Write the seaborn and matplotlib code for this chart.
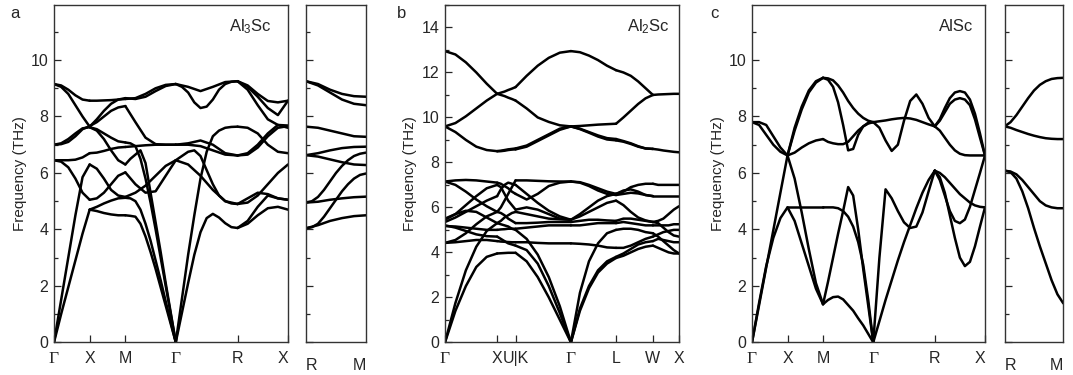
import numpy as np
import pandas as pd
import seaborn as sns
import matplotlib.pyplot as plt
from matplotlib.ticker import MultipleLocator

# ---------------- Al3Sc (L1_2) ----------------
al3sc_kpts = [0.0, 0.5, 1.0, 1.7071, 2.5731, 3.2802]
al3sc_labels = ['Γ', 'X', 'M', 'Γ', 'R', 'X']

al3sc_gx = [
    [0, 1.0, 1.95, 2.9, 3.85, 4.7],
    [0, 1.5, 3.0, 4.5, 5.85, 6.3],
    [6.45, 6.4, 6.2, 5.8, 5.3, 5.05],
    [6.45, 6.45, 6.45, 6.47, 6.55, 6.7],
    [7.0, 7.05, 7.2, 7.4, 7.58, 7.62],
    [7.0, 7.02, 7.1, 7.3, 7.55, 7.66],
    [9.15, 9.05, 8.8, 8.4, 8.0, 7.64],
    [9.15, 9.1, 8.95, 8.75, 8.6, 8.56],
]
al3sc_xm = [
    [4.7, 4.65, 4.58, 4.53, 4.5, 4.5],
    [4.7, 4.8, 4.92, 5.02, 5.1, 5.12],
    [5.05, 5.1, 5.3, 5.6, 5.9, 6.02],
    [6.3, 6.15, 5.8, 5.4, 5.2, 5.15],
    [6.7, 6.72, 6.78, 6.85, 6.9, 6.92],
    [7.62, 7.5, 7.2, 6.8, 6.45, 6.3],
    [7.62, 7.55, 7.4, 7.25, 7.12, 7.08],
    [7.66, 7.8, 8.0, 8.2, 8.32, 8.37],
    [7.64, 7.9, 8.2, 8.45, 8.6, 8.65],
    [8.56, 8.56, 8.57, 8.58, 8.6, 8.62],
]
al3sc_mg = [
    [4.5, 4.48, 4.45, 4.2, 3.75, 3.2, 2.6, 1.95, 1.3, 0.65, 0],
    [5.12, 5.1, 5.0, 4.7, 4.2, 3.6, 2.9, 2.2, 1.45, 0.72, 0],
    [7.08, 7.05, 6.95, 6.5, 5.8, 4.95, 4.0, 3.0, 2.0, 1.0, 0],
    [6.3, 6.5, 6.65, 6.8, 6.35, 5.3, 4.25, 3.2, 2.1, 1.05, 0],
    [6.92, 6.95, 6.98, 7.0, 7.0, 7.0],
    [8.65, 8.62, 8.7, 8.9, 9.08, 9.15],
    [8.62, 8.65, 8.8, 9.0, 9.12, 9.15],
    [8.37, 7.8, 7.25, 7.02, 7.0, 7.0],
    [5.15, 5.3, 5.55, 5.9, 6.25, 6.45],
    [6.02, 5.6, 5.3, 5.35, 5.9, 6.45],
]
al3sc_gr = [
    [0, 1.05, 2.1, 3.1, 3.9, 4.4, 4.55, 4.42, 4.22, 4.08, 4.05],
    [0, 1.55, 3.1, 4.5, 5.8, 6.75, 7.3, 7.5, 7.6, 7.63, 7.64],
    [6.45, 6.6, 6.75, 6.8, 6.6, 6.1, 5.6, 5.2, 5.0, 4.92, 4.9],
    [6.45, 6.3, 5.9, 5.4, 5.0, 4.9],
    [7.0, 7.05, 7.15, 7.0, 6.7, 6.62],
    [7.0, 7.0, 6.95, 6.8, 6.65, 6.62],
    [9.15, 9.05, 8.9, 9.05, 9.22, 9.25],
    [9.15, 9.05, 8.85, 8.5, 8.3, 8.35, 8.6, 8.95, 9.15, 9.23, 9.25],
]
al3sc_rx = [
    [9.25, 9.1, 8.8, 8.55, 8.5, 8.56],
    [9.25, 9.05, 8.7, 8.3, 8.05, 8.56],
    [9.25, 8.95, 8.4, 7.9, 7.7, 7.68],
    [7.64, 7.6, 7.4, 7.0, 6.75, 6.7],
    [6.62, 6.65, 6.9, 7.3, 7.6, 7.66],
    [6.62, 6.7, 7.0, 7.4, 7.7, 7.6],
    [4.9, 4.95, 5.2, 5.6, 6.0, 6.3],
    [4.9, 5.1, 5.3, 5.25, 5.1, 5.05],
    [4.05, 4.3, 4.8, 5.2, 5.1, 5.05],
    [4.05, 4.2, 4.5, 4.75, 4.8, 4.7],
]
al3sc_side = [
    [9.25, 9.15, 8.95, 8.8, 8.72, 8.7],
    [9.25, 9.1, 8.85, 8.6, 8.45, 8.4],
    [7.64, 7.6, 7.5, 7.4, 7.3, 7.28],
    [6.63, 6.7, 6.8, 6.88, 6.92, 6.93],
    [6.63, 6.58, 6.48, 6.38, 6.3, 6.28],
    [4.95, 5.0, 5.15, 5.4, 5.7, 6.0, 6.25, 6.45, 6.6, 6.68, 6.72],
    [4.95, 4.98, 5.05, 5.1, 5.14, 5.16],
    [4.04, 4.08, 4.2, 4.45, 4.75, 5.05, 5.35, 5.6, 5.8, 5.93, 5.98],
    [4.04, 4.15, 4.3, 4.4, 4.47, 4.5],
]

# ---------------- Al2Sc (C15, fcc) ----------------
al2sc_kpts = [0.0, 1.0, 1.3536, 2.4142, 3.2802, 3.9873, 4.4873]
al2sc_labels = ['Γ', 'X', 'U|K', 'Γ', 'L', 'W', 'X']

al2sc_gx = [
    [12.95, 12.8, 12.45, 12.0, 11.5, 11.05],
    [9.6, 9.75, 10.05, 10.4, 10.75, 11.05],
    [9.6, 9.35, 9.0, 8.7, 8.55, 8.5],
    [0, 1.4, 2.5, 3.35, 3.8, 3.95],
    [0, 1.75, 3.2, 4.25, 4.95, 5.3],
    [4.42, 4.45, 4.5, 4.55, 4.55, 4.5],
    [4.42, 4.55, 4.85, 5.25, 5.6, 5.8],
    [5.17, 5.15, 5.1, 5.05, 5.0, 5.0],
    [5.35, 5.55, 5.8, 6.05, 6.3, 6.5],
    [5.5, 5.7, 5.85, 5.8, 5.55, 5.3],
    [5.2, 5.1, 4.95, 4.8, 4.72, 4.7],
    [7.15, 7.2, 7.22, 7.2, 7.15, 7.1],
    [7.15, 7.0, 6.7, 6.35, 6.05, 5.8],
    [5.45, 5.7, 6.1, 6.5, 6.85, 7.0],
]
al2sc_xk = [
    [11.05, 11.1, 11.15, 11.22, 11.28, 11.35],
    [11.05, 11.0, 10.95, 10.88, 10.82, 10.75],
    [8.5, 8.52, 8.55, 8.58, 8.6, 8.62],
    [8.5, 8.5, 8.52, 8.55, 8.57, 8.58],
    [3.95, 3.96, 3.97, 3.98, 3.98, 3.98],
    [4.7, 4.6, 4.5, 4.4, 4.35, 4.3],
    [5.3, 5.25, 5.2, 5.15, 5.05, 5.0],
    [4.5, 4.48, 4.47, 4.46, 4.45, 4.45],
    [5.0, 5.02, 5.03, 5.05, 5.05, 5.05],
    [5.8, 5.75, 5.65, 5.5, 5.4, 5.3],
    [5.3, 5.4, 5.55, 5.65, 5.75, 5.8],
    [6.5, 6.8, 7.0, 7.1, 7.05, 7.0],
    [7.1, 7.05, 6.95, 6.85, 6.7, 6.6],
    [5.8, 6.0, 6.3, 6.6, 6.9, 7.2],
    [7.0, 6.9, 6.6, 6.3, 6.1, 5.9],
]
al2sc_kg = [
    [11.35, 11.85, 12.3, 12.65, 12.88, 12.95],
    [10.75, 10.4, 10.0, 9.8, 9.65, 9.6],
    [8.62, 8.75, 9.0, 9.25, 9.5, 9.6],
    [8.58, 8.7, 8.95, 9.2, 9.45, 9.6],
    [3.98, 3.6, 2.9, 2.0, 1.0, 0],
    [4.3, 4.1, 3.5, 2.5, 1.3, 0],
    [5.0, 4.6, 3.9, 2.9, 1.6, 0],
    [4.45, 4.45, 4.42, 4.4, 4.4, 4.4],
    [5.05, 5.1, 5.15, 5.2, 5.2, 5.2],
    [5.3, 5.3, 5.32, 5.35, 5.35, 5.35],
    [5.8, 5.7, 5.6, 5.5, 5.47, 5.45],
    [7.0, 6.6, 6.2, 5.85, 5.6, 5.45],
    [6.6, 6.35, 6.6, 6.95, 7.1, 7.15],
    [7.2, 7.2, 7.18, 7.16, 7.15, 7.15],
    [5.9, 6.0, 5.9, 5.7, 5.5, 5.45],
]
al2sc_gl = [
    [12.95, 12.9, 12.75, 12.55, 12.3, 12.1],
    [9.6, 9.62, 9.65, 9.68, 9.7, 9.72],
    [9.6, 9.5, 9.35, 9.2, 9.08, 9.04],
    [9.6, 9.48, 9.32, 9.15, 9.02, 8.98],
    [0, 1.4, 2.4, 3.1, 3.5, 3.75],
    [0, 1.5, 2.5, 3.2, 3.6, 3.8],
    [0, 2.2, 3.6, 4.4, 4.85, 5.0],
    [4.4, 4.38, 4.35, 4.3, 4.22, 4.2],
    [5.2, 5.2, 5.25, 5.3, 5.3, 5.3],
    [5.35, 5.4, 5.45, 5.45, 5.42, 5.4],
    [5.45, 5.6, 5.8, 6.0, 6.2, 6.3],
    [7.15, 7.12, 7.0, 6.85, 6.7, 6.6],
    [5.45, 5.7, 6.0, 6.3, 6.5, 6.6],
    [7.15, 7.1, 6.95, 6.75, 6.6, 6.55],
]
al2sc_lw = [
    [12.1, 12.0, 11.85, 11.6, 11.3, 11.0],
    [9.72, 10.0, 10.3, 10.6, 10.85, 11.0],
    [9.04, 8.95, 8.85, 8.72, 8.62, 8.6],
    [8.98, 8.92, 8.82, 8.7, 8.62, 8.6],
    [3.75, 3.85, 4.0, 4.15, 4.25, 4.3],
    [3.8, 3.95, 4.15, 4.35, 4.45, 4.5],
    [4.2, 4.2, 4.3, 4.45, 4.6, 4.7],
    [5.0, 5.05, 5.05, 5.0, 4.9, 4.85],
    [5.3, 5.35, 5.3, 5.25, 5.2, 5.2],
    [5.4, 5.5, 5.5, 5.45, 5.4, 5.35],
    [6.3, 6.1, 5.8, 5.55, 5.42, 5.35],
    [6.6, 6.7, 6.9, 7.0, 7.05, 7.05],
    [6.6, 6.75, 6.8, 6.7, 6.55, 6.5],
    [6.55, 6.6, 6.65, 6.62, 6.55, 6.5],
]
al2sc_wx = [
    [11.0, 11.02, 11.03, 11.04, 11.05, 11.05],
    [8.6, 8.57, 8.53, 8.5, 8.47, 8.45],
    [4.3, 4.2, 4.1, 4.0, 3.95, 3.95],
    [4.5, 4.6, 4.55, 4.5, 4.45, 4.45],
    [4.7, 4.8, 4.9, 4.95, 5.0, 5.0],
    [4.85, 4.7, 4.5, 4.3, 4.1, 3.95],
    [5.2, 5.2, 5.2, 5.2, 5.25, 5.25],
    [5.35, 5.4, 5.5, 5.7, 5.9, 6.05],
    [6.5, 6.5, 6.5, 6.5, 6.5, 6.5],
    [7.05, 7.0, 7.0, 7.0, 7.0, 7.0],
    [5.35, 5.3, 5.1, 4.9, 4.75, 4.7],
]

# ---------------- AlSc (B2) ----------------
alsc_kpts = [0.0, 0.5, 1.0, 1.7071, 2.5731, 3.2802]
alsc_labels = ['Γ', 'X', 'M', 'Γ', 'R', 'X']

alsc_gx = [
    [0, 1.4, 2.7, 3.7, 4.4, 4.78],
    [0, 1.32, 2.65, 3.97, 5.3, 6.62],
    [7.8, 7.8, 7.7, 7.3, 6.9, 6.62],
    [7.8, 7.7, 7.35, 7.0, 6.75, 6.62],
]
alsc_xm = [
    [4.78, 4.78, 4.78, 4.78, 4.78, 4.78],
    [4.78, 4.3, 3.5, 2.7, 1.9, 1.35],
    [6.62, 5.8, 4.6, 3.3, 2.1, 1.35],
    [6.62, 7.5, 8.25, 8.85, 9.2, 9.37],
    [6.62, 7.6, 8.35, 8.92, 9.25, 9.37],
    [6.62, 6.72, 6.9, 7.05, 7.15, 7.2],
]
alsc_mg = [
    [9.37, 9.35, 9.28, 9.1, 8.85, 8.55, 8.3, 8.1, 7.95, 7.85, 7.8],
    [9.37, 9.3, 9.05, 8.5, 7.7, 6.8, 6.85, 7.35, 7.65, 7.78, 7.8],
    [7.2, 7.1, 7.05, 7.02, 7.02, 7.1, 7.3, 7.5, 7.65, 7.75, 7.8],
    [4.78, 4.78, 4.78, 4.75, 4.65, 4.45, 4.1, 3.55, 2.75, 1.5, 0],
    [1.35, 1.5, 1.6, 1.62, 1.52, 1.32, 1.12, 0.85, 0.6, 0.3, 0],
    [1.35, 2.15, 3.0, 3.85, 4.65, 5.5, 5.2, 4.0, 2.6, 1.3, 0],
]
alsc_gr = [
    [7.8, 7.83, 7.86, 7.9, 7.93, 7.95, 7.93, 7.88, 7.8, 7.72, 7.65],
    [7.8, 7.6, 7.15, 6.78, 7.0, 7.85, 8.55, 8.78, 8.45, 7.95, 7.65],
    [0, 0.75, 1.5, 2.2, 2.9, 3.55, 4.15, 4.75, 5.3, 5.75, 6.08],
    [0, 3.0, 5.42, 5.1, 4.65, 4.25, 4.05, 4.1, 4.6, 5.35, 6.08],
]
alsc_rx = [
    [7.65, 7.5, 7.25, 7.0, 6.8, 6.68, 6.63, 6.62, 6.62, 6.62, 6.62],
    [7.65, 7.9, 8.3, 8.65, 8.85, 8.9, 8.85, 8.6, 8.1, 7.4, 6.62],
    [7.65, 7.85, 8.15, 8.45, 8.6, 8.65, 8.6, 8.4, 7.9, 7.25, 6.62],
    [6.08, 5.85, 5.3, 4.5, 3.7, 3.0, 2.7, 2.85, 3.4, 4.1, 4.78],
    [6.08, 5.75, 5.2, 4.65, 4.3, 4.22, 4.35, 4.8, 5.4, 6.0, 6.62],
    [6.08, 6.0, 5.85, 5.65, 5.45, 5.25, 5.1, 4.95, 4.85, 4.8, 4.78],
]
alsc_side = [
    [7.65, 7.8, 8.05, 8.35, 8.65, 8.92, 9.12, 9.25, 9.33, 9.36, 9.37],
    [7.65, 7.6, 7.52, 7.45, 7.38, 7.32, 7.27, 7.23, 7.21, 7.2, 7.2],
    [6.08, 6.05, 5.95, 5.75, 5.5, 5.25, 5.0, 4.85, 4.78, 4.75, 4.75],
    [6.08, 6.03, 5.8, 5.35, 4.75, 4.05, 3.4, 2.8, 2.2, 1.7, 1.38],
]


def band_frame(kpts, segments):
    """Long table of all band pieces, one unit id per drawn curve"""
    rows = []
    cid = 0
    for i, seg in enumerate(segments):
        for curve in seg:
            ks = np.linspace(kpts[i], kpts[i + 1], len(curve))
            for k, f in zip(ks, curve):
                rows.append((cid, k, f))
            cid += 1
    return pd.DataFrame(rows, columns=['curve', 'k', 'freq'])


def draw_bands(ax, df):
    sns.lineplot(data=df, x='k', y='freq', units='curve', estimator=None, sort=False,
                 color='black', linewidth=1.8, legend=False, ax=ax)
    ax.set_xlabel('')
    ax.set_ylabel('')


def style_axes(ax, ymax, ylabel=True):
    ax.set_ylim(0, ymax)
    ax.yaxis.set_major_locator(MultipleLocator(2))
    ax.yaxis.set_minor_locator(MultipleLocator(1))
    ax.tick_params(axis='y', which='major', direction='in', length=5, width=0.9, pad=4,
                   labelsize=11.5, left=True, right=False)
    ax.tick_params(axis='y', which='minor', direction='in', length=3, width=0.9, left=True, right=False)
    ax.tick_params(axis='x', which='major', direction='in', length=5, width=0.9, pad=6, labelsize=11.5)
    for s in ax.spines.values():
        s.set_visible(True)
        s.set_linewidth(1.0)
        s.set_color('#333333')
    if ylabel:
        ax.set_ylabel('Frequency (THz)', fontsize=11, labelpad=3)
    else:
        ax.tick_params(axis='y', which='both', labelleft=False)


def set_kticks(ax, kpts, labels):
    ax.set_xlim(kpts[0], kpts[-1])
    ax.set_xticks(kpts)
    ax.set_xticklabels(labels)
    for lbl in ax.get_xticklabels():
        if lbl.get_text() == 'Γ':
            lbl.set_fontfamily('Liberation Serif')
            lbl.set_fontsize(12.5)


sns.set_style("ticks")
plt.rcParams['font.family'] = ['Liberation Sans', 'DejaVu Sans']
plt.rcParams['mathtext.fontset'] = 'custom'
plt.rcParams['mathtext.rm'] = 'Liberation Sans'
plt.rcParams['mathtext.it'] = 'Liberation Sans:italic'

W, H = 1073, 375
fig = plt.figure(figsize=(W / 100, H / 100), dpi=100)


def px_axes(left, right, top=5, bottom=342.3):
    return fig.add_axes([left / W, 1 - bottom / H, (right - left) / W, (bottom - top) / H])


def side_panel(ax, side):
    draw_bands(ax, band_frame([0, 1], [side]))
    style_axes(ax, 11.95, ylabel=False)
    ax.set_xlim(0, 1)
    ax.set_xticks([0, 1])
    ax.set_xticklabels(['R', 'M'])
    ax.tick_params(axis='x', length=0, pad=11)
    ax.get_xticklabels()[0].set_ha('left')
    ax.get_xticklabels()[1].set_ha('right')


# panel a
ax_a = px_axes(54, 288)
draw_bands(ax_a, band_frame(al3sc_kpts, [al3sc_gx, al3sc_xm, al3sc_mg, al3sc_gr, al3sc_rx]))
style_axes(ax_a, 11.95)
set_kticks(ax_a, al3sc_kpts, al3sc_labels)
ax_a.get_xticklabels()[-1].set_ha('right')
ax_a.text(0.93, 0.935, r'Al$_\mathrm{3}$Sc', transform=ax_a.transAxes, ha='right', va='center', fontsize=12)

ax_a2 = px_axes(306, 366)
side_panel(ax_a2, al3sc_side)

# panel b
ax_b = px_axes(445, 679)
draw_bands(ax_b, band_frame(al2sc_kpts, [al2sc_gx, al2sc_xk, al2sc_kg, al2sc_gl, al2sc_lw, al2sc_wx]))
style_axes(ax_b, 15)
set_kticks(ax_b, al2sc_kpts, al2sc_labels)
ax_b.text(0.962, 0.935, r'Al$_\mathrm{2}$Sc', transform=ax_b.transAxes, ha='right', va='center', fontsize=12)

# panel c
ax_c = px_axes(752, 985)
draw_bands(ax_c, band_frame(alsc_kpts, [alsc_gx, alsc_xm, alsc_mg, alsc_gr, alsc_rx]))
style_axes(ax_c, 11.95)
set_kticks(ax_c, alsc_kpts, alsc_labels)
ax_c.get_xticklabels()[-1].set_ha('right')
ax_c.text(0.948, 0.935, 'AlSc', transform=ax_c.transAxes, ha='right', va='center', fontsize=12)

ax_c2 = px_axes(1004.7, 1063.3)
side_panel(ax_c2, alsc_side)

for x, t in [(10, 'a'), (397, 'b'), (710, 'c')]:
    fig.text(x / W, 1 - 13 / H, t, fontsize=12, ha='left', va='center')

fig.savefig('out.png', dpi=100)
